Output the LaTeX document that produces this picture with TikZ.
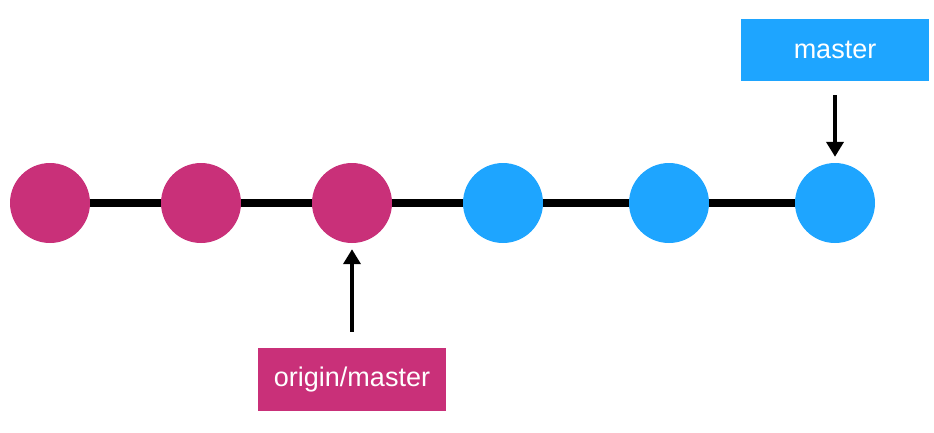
\documentclass[tikz,border=0pt]{standalone}
\usepackage{fontspec}
\setmainfont{Liberation Sans}
\usetikzlibrary{arrows.meta}
\definecolor{mag}{RGB}{201,48,121}
\definecolor{sky}{RGB}{30,165,255}
\tikzset{
  commit/.style={circle, minimum size=80pt, inner sep=0pt, draw=none, fill=#1},
  label box/.style={rectangle, minimum width=188pt, minimum height=62pt, inner sep=0pt, fill=#1, text=white, font=\fontsize{27}{32}\selectfont},
  pointer/.style={line width=4pt, -{Triangle[length=15pt,width=17pt]}},
  chain/.style={line width=8pt}
}
\begin{document}
\begin{tikzpicture}[x=1pt,y=-1pt]
\useasboundingbox (0,0) rectangle (934,432);
\node[commit=mag] (c1) at (50,203) {};
\node[commit=mag] (c2) at (201,203) {};
\node[commit=mag] (c3) at (352,203) {};
\node[commit=sky] (c4) at (503,203) {};
\node[commit=sky] (c5) at (669,203) {};
\node[commit=sky] (c6) at (835,203) {};
\draw[chain] (c1) -- (c2) -- (c3) -- (c4) -- (c5) -- (c6);
\node[label box=sky] (m) at (835,49.5) {master};
\node[label box=mag, minimum height=63pt] (o) at (352,379.5) {origin/master};
\draw[pointer] ([yshift=-14.5pt]m.south) -- ([yshift=6pt]c6.north);
\draw[pointer] ([yshift=16pt]o.north) -- ([yshift=-6pt]c3.south);
\end{tikzpicture}
\end{document}
